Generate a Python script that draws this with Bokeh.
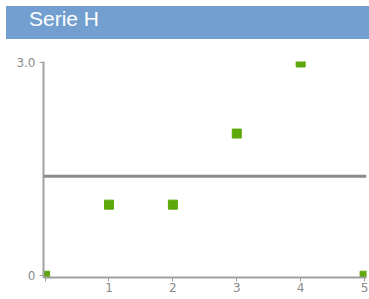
from bokeh.plotting import figure
from bokeh.models import Div, FixedTicker, Span
from bokeh.layouts import column
from bokeh.embed import file_html
from bokeh.resources import INLINE

# data
title_text = "Serie H"
x_values = [0, 1, 2, 3, 4, 5]
y_values = [0, 1, 1, 2, 3, 0]
reference_level = 1.4
x_ticks = [0, 1, 2, 3, 4, 5]
x_tick_labels = {0: "", 1: "1", 2: "2", 3: "3", 4: "4", 5: "5"}
y_ticks = [0, 3]
y_tick_labels = {0: "0", 3: "3.0"}

header = Div(
    text=('<div style="width:363px;height:33px;box-sizing:border-box;'
          'background:#729fcf;color:white;font-family:\'Liberation Sans\',Arial,sans-serif;'
          'font-size:21px;line-height:25px;padding-left:23px;">' + title_text + '</div>'),
    width=363, height=33, margin=(6, 0, 0, 6),
)

p = figure(width=363, height=258, output_backend="svg", toolbar_location=None,
           x_range=(-0.025, 5.03), y_range=(-0.025, 3.014),
           min_border_left=37, min_border_right=3, min_border_top=22, min_border_bottom=20,
           margin=(0, 0, 0, 6))
p.outline_line_color = None
p.xgrid.grid_line_color = None
p.ygrid.grid_line_color = None
p.background_fill_color = "white"

for ax in (p.xaxis[0], p.yaxis[0]):
    ax.axis_line_color = "#a0a0a0"
    ax.axis_line_width = 2
    ax.major_tick_line_color = "#a0a0a0"
    ax.major_tick_line_width = 1
    ax.major_tick_in = 0
    ax.major_tick_out = 4
    ax.minor_tick_line_color = None
    ax.major_label_text_color = "#8a8a8a"
    ax.major_label_text_font = "DejaVu Sans"
    ax.major_label_text_font_size = "12px"

p.xaxis.ticker = FixedTicker(ticks=x_ticks)
p.xaxis.major_label_overrides = x_tick_labels
p.xaxis.major_label_standoff = 1
p.yaxis.ticker = FixedTicker(ticks=y_ticks)
p.yaxis.major_label_overrides = y_tick_labels
p.yaxis.major_label_standoff = 4

p.add_layout(Span(location=reference_level, dimension="width",
                  line_color="#8c8c8c", line_width=3))
p.scatter(x_values, y_values, marker="square", size=9,
          fill_color="#5ea80a", line_color="#5ea80a")

layout = column(header, p, spacing=0)
open("out.html", "w").write(file_html(layout, INLINE))
